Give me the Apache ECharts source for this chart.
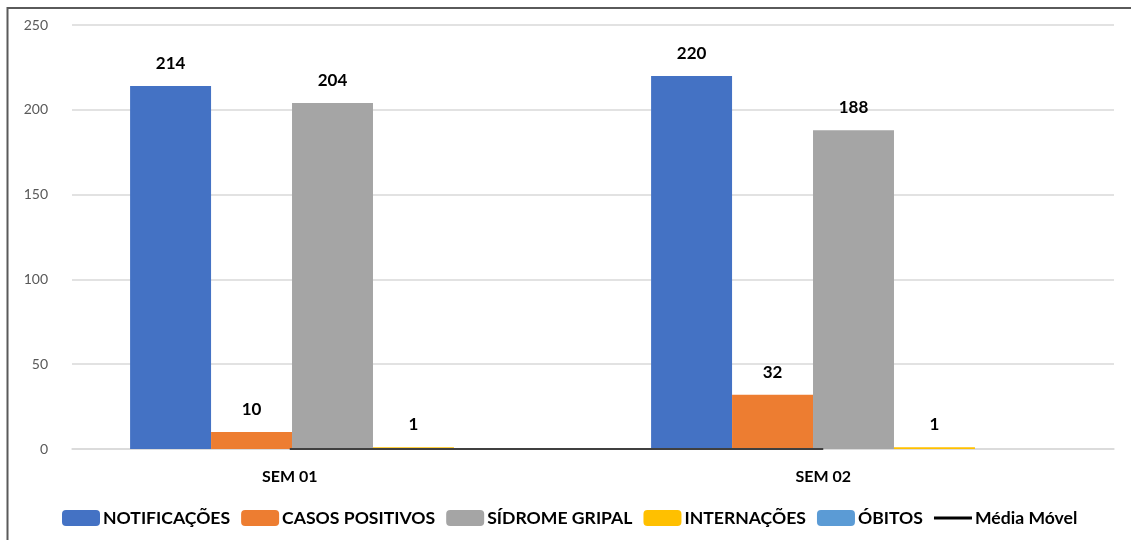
<!DOCTYPE html>
<html>
<head>
<meta charset="utf-8">
<script src="https://cdn.jsdelivr.net/npm/echarts@6/dist/echarts.min.js"></script>
<style>
    html, body { margin: 0; padding: 0; background: #fff; }
    #chart { width: 1131px; height: 540px; }
</style>
</head>
<body>
<div id="chart"></div>
<script>
// dados do gráfico
const semanas = ["SEM 01", "SEM 02"];
const notificacoes = [214, 220];
const casosPositivos = [10, 32];
const sindromeGripal = [204, 188];
const internacoes = [1, 1];
const obitos = [0, 0];
const mediaMovel = [0, 0];
const yTicks = [0, 50, 100, 150, 200, 250];

const font = "Lato, 'Noto Sans', sans-serif";
let myChart = echarts.init(document.getElementById("chart"));

function barSerie(name, data, color, showLabel) {
    return {
        name: name,
        type: "bar",
        data: data,
        barGap: "0%",
        barCategoryGap: "22.3%",
        itemStyle: { color: color },
        label: {
            show: showLabel,
            position: "top",
            distance: 14,
            color: "#000",
            fontFamily: font,
            fontWeight: "bold",
            fontSize: 17
        }
    };
}

let option = {
    animation: false,
    backgroundColor: "#fff",
    graphic: [{
        type: "polyline",
        shape: { points: [[7.5, 545], [7.5, 8], [1140, 8]] },
        style: { stroke: "#5a5a5a", lineWidth: 2, fill: null }
    }],
    legend: {
        bottom: 8,
        left: 57,
        itemWidth: 38,
        itemHeight: 16,
        itemGap: 11,
        textStyle: {
            fontFamily: font,
            fontSize: 17.6,
            fontWeight: "bold",
            color: "#000",
            padding: [0, 0, 0, -2]
        },
        data: [
            "NOTIFICAÇÕES", "CASOS POSITIVOS", "SÍDROME GRIPAL", "INTERNAÇÕES", "ÓBITOS",
            { name: "Média Móvel", icon: "path://M0,0 L38,0 L38,3 L0,3 Z", itemStyle: { color: "#000" } }
        ]
    },
    grid: [
        { left: 72, right: 17, top: 25, bottom: 91 },
        { left: 23, right: 41, top: 25, bottom: 91 }
    ],
    xAxis: [{
        type: "category",
        gridIndex: 0,
        data: semanas,
        axisLine: { show: true, lineStyle: { color: "#d9d9d9", width: 1.5 } },
        axisTick: { show: false },
        axisLabel: { show: false }
    }, {
        type: "category",
        gridIndex: 1,
        data: semanas,
        axisLine: { show: false },
        axisTick: { show: false },
        axisLabel: {
            margin: 20,
            color: "#000",
            fontFamily: font,
            fontSize: 16,
            fontWeight: "bold"
        }
    }],
    yAxis: [{
        type: "value",
        gridIndex: 0,
        min: yTicks[0],
        max: yTicks[yTicks.length - 1],
        interval: yTicks[1] - yTicks[0],
        axisLine: { show: false },
        axisTick: { show: false },
        axisLabel: {
            margin: 24,
            color: "#595959",
            fontFamily: font,
            fontSize: 14
        },
        splitLine: { lineStyle: { color: "#d9d9d9", width: 1.5 } }
    }, {
        type: "value",
        gridIndex: 1,
        min: yTicks[0],
        max: yTicks[yTicks.length - 1],
        show: false,
        splitLine: { show: false }
    }],
    series: [
        barSerie("NOTIFICAÇÕES", notificacoes, "#4472C4", true),
        barSerie("CASOS POSITIVOS", casosPositivos, "#ED7D31", true),
        barSerie("SÍDROME GRIPAL", sindromeGripal, "#A5A5A5", true),
        barSerie("INTERNAÇÕES", internacoes, "#FFC000", true),
        barSerie("ÓBITOS", obitos, "#5B9BD5", false),
        {
            name: "Média Móvel",
            type: "line",
            xAxisIndex: 1,
            yAxisIndex: 1,
            data: mediaMovel,
            symbol: "none",
            z: 3,
            itemStyle: { color: "#000" },
            lineStyle: { color: "#404040", width: 2 }
        }
    ]
};
myChart.setOption(option);
</script>
</body>
</html>
